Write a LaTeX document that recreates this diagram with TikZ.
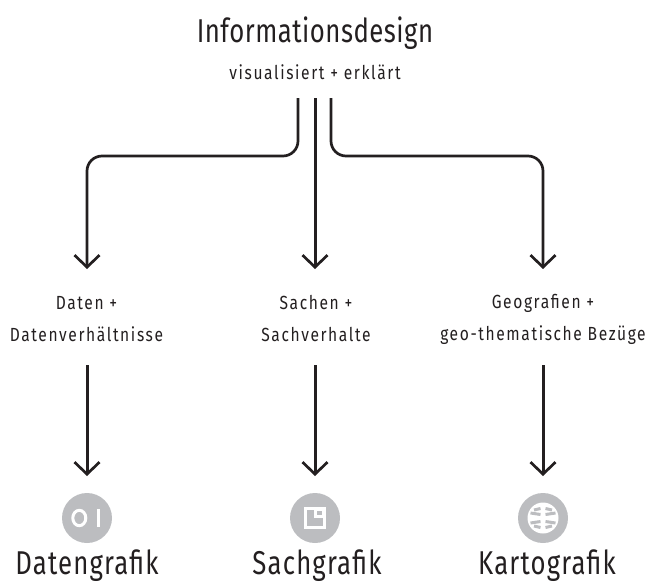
\documentclass[tikz,border=0pt]{standalone}
\usepackage{fontspec}
\newfontfamily\fttl[FakeStretch=0.78,LetterSpace=1.5]{Fira Sans}
\newfontfamily\fbig[FakeStretch=0.78,LetterSpace=3.5]{Fira Sans}
\newfontfamily\fsml[FakeStretch=0.82,LetterSpace=8.5]{Fira Sans}
\usetikzlibrary{arrows.meta}
\definecolor{ink}{HTML}{231F20}
\definecolor{iconbg}{HTML}{BCBDC0}
\tikzset{
  flow/.style={draw=ink,line width=2.7pt,rounded corners=15pt,-{Straight Barb[length=12pt,width=25pt,line width=2.7pt]}},
  flowstraight/.style={flow,line width=3pt,-{Straight Barb[length=12pt,width=25pt,line width=2.7pt]}},
  ttl/.style={text=ink,font=\fttl\fontsize{33}{36}\selectfont,inner sep=0pt,anchor=base},
  big/.style={text=ink,font=\fbig\fontsize{33}{36}\selectfont,inner sep=0pt,anchor=base},
  small/.style={text=ink,font=\fsml\fontsize{19}{32}\selectfont,inner sep=0pt,align=center},
  disc/.style={circle,fill=iconbg,minimum size=50pt,inner sep=0pt},
  cut/.style={draw=iconbg,line width=3pt}
}
\begin{document}
\begin{tikzpicture}[x=1pt,y=-1pt]
\useasboundingbox (0,0) rectangle (648,584);
\node[ttl] (title) at (315,42.5) {Informationsdesign};
\node[small,anchor=base] (sub) at (315,79) {visualisiert + erklärt};
\coordinate (sl) at (298,98);
\coordinate (sm) at (315,98);
\coordinate (sr) at (331,98);
\node[small] (a) at (86.5,319) {Daten +\\Datenverhältnisse};
\node[small] (b) at (316,319) {Sachen +\\Sachverhalte};
\node[small] (c) at (543,319) {Geografien +\\geo-thematische Bezüge};
\coordinate (at) at (87,269);
\coordinate (bt) at (315,269);
\coordinate (ct) at (543,269);
\coordinate (as) at (87,365);
\coordinate (bs) at (315,365);
\coordinate (cs) at (543,365);
\coordinate (ae) at (87,476);
\coordinate (be) at (315,476);
\coordinate (ce) at (543,476);
\draw[flow] (sl) |- (156,156) -| (at);
\draw[flowstraight] (sm) -- (bt);
\draw[flow] (sr) |- (400,156) -| (ct);
\draw[flowstraight] (as) -- (ae);
\draw[flowstraight] (bs) -- (be);
\draw[flowstraight] (cs) -- (ce);
\node[disc] (ia) at (87,518) {};
\node[disc] (ib) at (315,518) {};
\node[disc] (ic) at (543,518) {};
% Daten icon
\draw[white,line width=3pt] (79.3,518) ellipse (6.5 and 7.7);
\draw[white,line width=3.4pt] (98.7,509) -- (98.7,527);
% Sach icon
\fill[white] (304,507) rectangle (326,529);
\fill[iconbg] (307,510) rectangle (323,526);
\fill[white] (314,507) rectangle (326,518);
\fill[iconbg] (317,510.5) rectangle (322,515);
% Karten icon
\fill[white] (543,518) circle (15.5);
\foreach \s in {-1,1}{
  \draw[cut] ({543+\s*2.5},508.5) -- ({543+\s*9},510);
  \draw[cut] ({543+\s*2.5},514.5) -- ({543+\s*12.5},513);
  \draw[cut] ({543+\s*2.5},521.5) -- ({543+\s*12.5},523);
  \draw[cut] ({543+\s*2.5},527.5) -- ({543+\s*9},526);
}
\node[big] (la) at (87,574) {Datengrafik};
\node[big] (lb) at (317,574) {Sachgrafik};
\node[big] (lc) at (547,574) {Kartografik};
\end{tikzpicture}
\end{document}
